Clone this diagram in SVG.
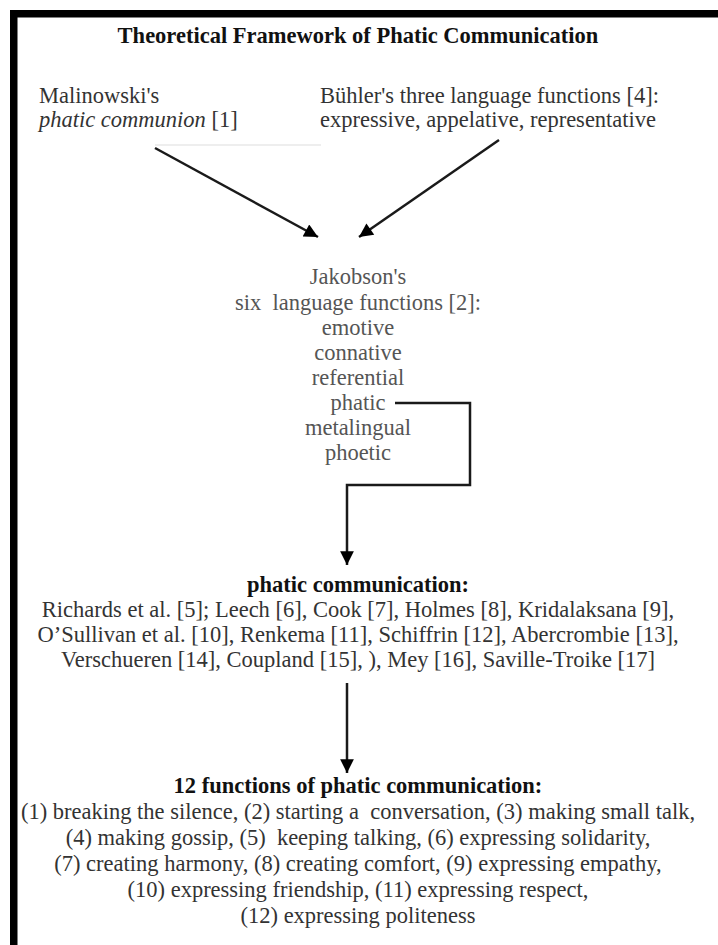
<svg xmlns="http://www.w3.org/2000/svg" width="718" height="945" viewBox="0 0 718 945">
<style>
text { font-family: "Liberation Serif", "Times New Roman", serif; font-size: 22.5px; fill: #333; white-space: pre; }
.b { font-weight: bold; fill: #111; }
.jak { fill: #555; }
.c { text-anchor: middle; }
.i { font-style: italic; }
.arrow { stroke: #1a1a1a; stroke-width: 2.5; fill: none; }
</style>
<defs>
<marker id="ah" viewBox="0 0 10 10" refX="10" refY="5" markerWidth="6" markerHeight="5.5" orient="auto" markerUnits="strokeWidth">
<path d="M0,0 L10,5 L0,10 z" fill="#000"/>
</marker>
</defs>
<rect x="0" y="0" width="718" height="945" fill="#fff"/>
<g id="frame">
<rect x="10" y="10" width="708" height="7.5" fill="#000"/>
<rect x="10" y="10" width="7.5" height="935" fill="#000"/>
</g>
<g id="title">
<text class="b c" x="358" y="43">Theoretical Framework of Phatic Communication</text>
</g>
<g id="malinowski">
<text x="39" y="103">Malinowski's</text>
<text x="39" y="127"><tspan class="i">phatic communion</tspan> [1]</text>
</g>
<g id="buhler">
<text x="320" y="103">Bühler's three language functions [4]:</text>
<text x="320" y="127">expressive, appelative, representative</text>
</g>
<g id="jakobson">
<text class="jak c" x="358" y="284">Jakobson's</text>
<text class="jak c" x="358" y="310">six  language functions [2]:</text>
<text class="jak c" x="358" y="335">emotive</text>
<text class="jak c" x="358" y="360">connative</text>
<text class="jak c" x="358" y="385">referential</text>
<text class="jak c" x="358" y="410">phatic</text>
<text class="jak c" x="358" y="435">metalingual</text>
<text class="jak c" x="358" y="460">phoetic</text>
</g>
<g id="phatic-communication">
<text class="b c" x="358" y="592">phatic communication:</text>
<text class="c" x="358" y="617">Richards et al. [5]; Leech [6], Cook [7], Holmes [8], Kridalaksana [9],</text>
<text class="c" x="358" y="642">O’Sullivan et al. [10], Renkema [11], Schiffrin [12], Abercrombie [13],</text>
<text class="c" x="358" y="667">Verschueren [14], Coupland [15], ), Mey [16], Saville-Troike [17]</text>
</g>
<g id="functions">
<text class="b c" x="358" y="793">12 functions of phatic communication:</text>
<text class="c" x="358" y="819">(1) breaking the silence, (2) starting a  conversation, (3) making small talk,</text>
<text class="c" x="358" y="845">(4) making gossip, (5)  keeping talking, (6) expressing solidarity,</text>
<text class="c" x="358" y="871">(7) creating harmony, (8) creating comfort, (9) expressing empathy,</text>
<text class="c" x="358" y="897">(10) expressing friendship, (11) expressing respect,</text>
<text class="c" x="358" y="923">(12) expressing politeness</text>
</g>
<g id="connectors">
<line x1="155" y1="145" x2="321" y2="145" stroke="#dddddd" stroke-width="1"/>
<line class="arrow" x1="155" y1="148" x2="318" y2="237" marker-end="url(#ah)"/>
<line class="arrow" x1="499" y1="140" x2="359" y2="237" marker-end="url(#ah)"/>
<polyline class="arrow" points="395,403 470,403 470,485 347,485 347,565" marker-end="url(#ah)"/>
<line class="arrow" x1="347" y1="683" x2="347" y2="773" marker-end="url(#ah)"/>
</g>
</svg>
